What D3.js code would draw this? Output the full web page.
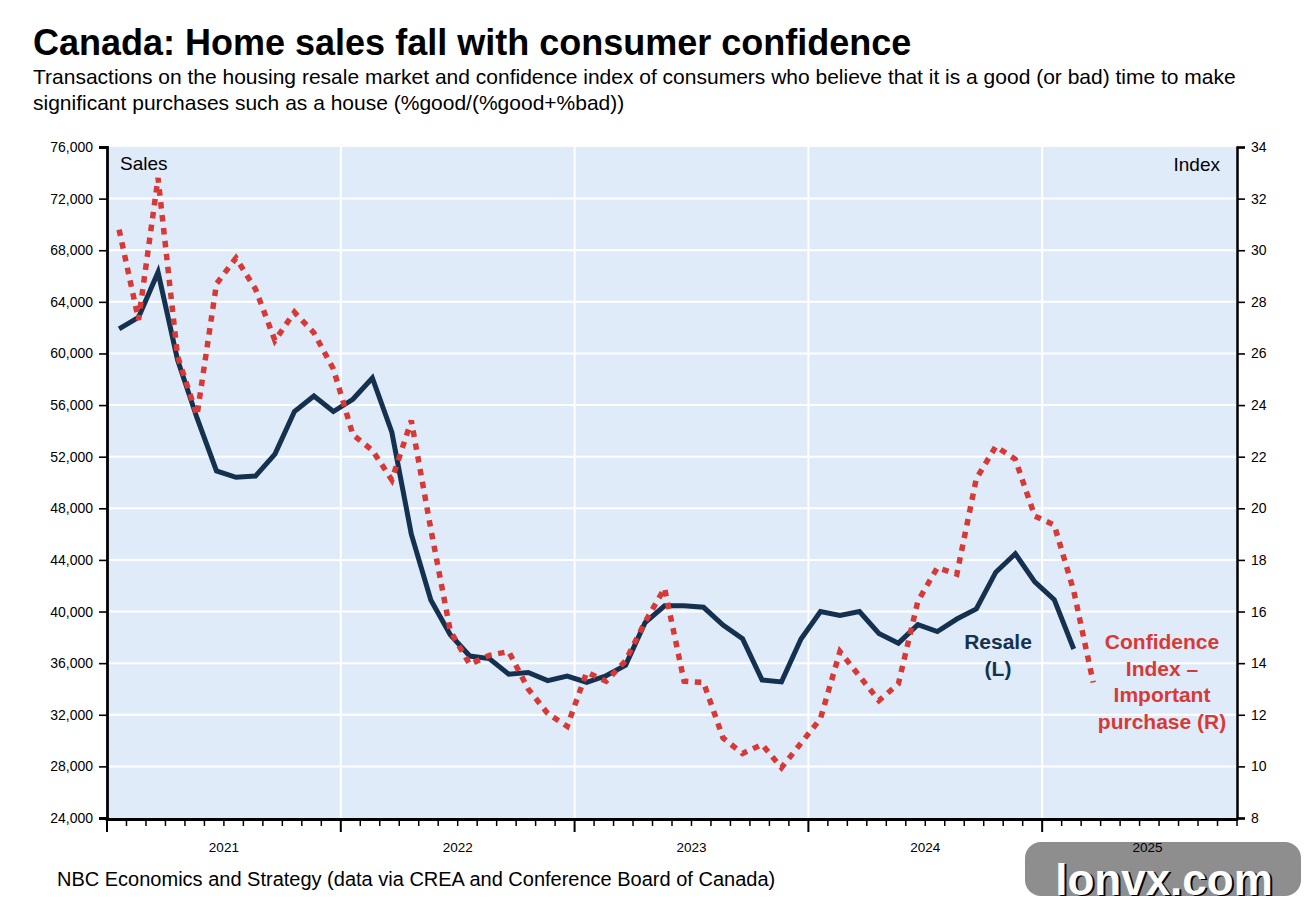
<!DOCTYPE html>
<html>
<head>
<meta charset="utf-8">
<script src="https://cdn.jsdelivr.net/npm/d3@7"></script>
<style>
  body { margin: 0; background: #ffffff; }
  svg { display: block; font-family: "Liberation Sans", Arial, Helvetica, sans-serif; }
</style>
</head>
<body>
<svg id="chart" width="1304" height="908"></svg>
<script>
// ---------------- DATA ----------------
const months = [
  "2021-01","2021-02","2021-03","2021-04","2021-05","2021-06","2021-07","2021-08","2021-09","2021-10","2021-11","2021-12",
  "2022-01","2022-02","2022-03","2022-04","2022-05","2022-06","2022-07","2022-08","2022-09","2022-10","2022-11","2022-12",
  "2023-01","2023-02","2023-03","2023-04","2023-05","2023-06","2023-07","2023-08","2023-09","2023-10","2023-11","2023-12",
  "2024-01","2024-02","2024-03","2024-04","2024-05","2024-06","2024-07","2024-08","2024-09","2024-10","2024-11","2024-12",
  "2025-01","2025-02","2025-03"
];

// Resale transactions (left axis), Jan 2021 - Feb 2025
const resale = [
  61900, 62800, 66300, 59500, 55000, 50900, 50400, 50500, 52200, 55500, 56700, 55500,
  56450, 58100, 53900, 46000, 40900, 38200, 36550, 36350, 35150, 35280, 34650, 35000,
  34520, 35020, 35850, 39150, 40450, 40450, 40330, 38950, 37900, 34700, 34550, 37870,
  40000, 39700, 40000, 38300, 37550, 38980, 38450, 39420, 40200, 43050, 44480, 42300,
  40920, 37100
];

// Confidence index - important purchase (right axis), Jan 2021 - Mar 2025
const confidence = [
  30.8, 27.3, 32.8, 25.9, 23.6, 28.7, 29.7, 28.5, 26.5, 27.6, 26.8, 25.4,
  22.85, 22.25, 21.1, 23.4, 19.2, 15.25, 13.95, 14.3, 14.45, 13.0, 12.05, 11.55,
  13.65, 13.3, 14.1, 15.6, 16.9, 13.3, 13.25, 11.1, 10.5, 10.85, 9.95, 10.9,
  11.85, 14.45, 13.5, 12.55, 13.2, 16.4, 17.7, 17.45, 21.15, 22.4, 21.9, 19.7,
  19.35, 16.8, 13.25
];

const leftTicks = [24000, 28000, 32000, 36000, 40000, 44000, 48000, 52000, 56000, 60000, 64000, 68000, 72000, 76000];
const rightTicks = [8, 10, 12, 14, 16, 18, 20, 22, 24, 26, 28, 30, 32, 34];
const yearLabels = ["2021", "2022", "2023", "2024", "2025"];
const axisMonths = 58; // Jan 2021 .. end Oct 2025

// ---------------- LAYOUT ----------------
const svg = d3.select("#chart");
const plot = { left: 107, right: 1237, top: 147, bottom: 818 };
const navy = "#14324f";
const red = "#d73a36";
const bg = "#e0ebf9";
const pointOffset = 0.62;

const x = d3.scaleLinear().domain([0, axisMonths]).range([plot.left, plot.right]);
const yL = d3.scaleLinear().domain([24000, 76000]).range([plot.bottom, plot.top]);
const yR = d3.scaleLinear().domain([8, 34]).range([plot.bottom, plot.top]);

// watermark (drawn first; year label sits on top of it)
const wm = svg.append("g");
wm.append("rect").attr("x", 1025).attr("y", 842).attr("width", 276).attr("height", 54)
  .attr("rx", 16).attr("fill", "#8e8e8e");
wm.append("text").attr("x", 1166).attr("y", 896).attr("text-anchor", "middle")
  .attr("font-size", 44).attr("font-weight", "bold").attr("fill", "#000").text("lonvx.com");
wm.append("text").attr("x", 1164).attr("y", 894.5).attr("text-anchor", "middle")
  .attr("font-size", 44).attr("font-weight", "bold").attr("fill", "#fff").text("lonvx.com");

// title & subtitle
svg.append("text").attr("x", 33).attr("y", 55).attr("font-size", 36).attr("font-weight", "bold")
  .attr("fill", "#000").text("Canada: Home sales fall with consumer confidence");
svg.append("text").attr("x", 33).attr("y", 84).attr("font-size", 21).attr("fill", "#000")
  .text("Transactions on the housing resale market and confidence index of consumers who believe that it is a good (or bad) time to make");
svg.append("text").attr("x", 33).attr("y", 110).attr("font-size", 21).attr("fill", "#000")
  .text("significant purchases such as a house (%good/(%good+%bad))");

// plot background
svg.append("rect").attr("x", plot.left).attr("y", plot.top)
  .attr("width", plot.right - plot.left).attr("height", plot.bottom - plot.top).attr("fill", bg);

// gridlines
const grid = svg.append("g").attr("stroke", "#ffffff").attr("stroke-width", 2);
grid.selectAll("line.h").data(leftTicks.filter(v => v > 24000 && v < 76000)).join("line")
  .attr("x1", plot.left).attr("x2", plot.right)
  .attr("y1", d => yL(d)).attr("y2", d => yL(d));
const yearStarts = d3.range(12, axisMonths, 12);
grid.selectAll("line.v").data(yearStarts).join("line")
  .attr("x1", d => x(d)).attr("x2", d => x(d))
  .attr("y1", plot.top).attr("y2", plot.bottom);

// left axis
const leftAxis = d3.axisLeft(yL).tickValues(leftTicks).tickSize(8).tickPadding(6)
  .tickFormat(d3.format(","));
const gL = svg.append("g").attr("transform", `translate(${plot.left},0)`).call(leftAxis);
gL.select(".domain").attr("stroke", "#000").attr("stroke-width", 2.8);
gL.selectAll(".tick line").attr("stroke", "#000").attr("stroke-width", 1.6);
gL.selectAll("text").attr("font-size", 14).attr("fill", "#000").attr("font-family", null);

// right axis
const rightAxis = d3.axisRight(yR).tickValues(rightTicks).tickSize(8).tickPadding(6);
const gR = svg.append("g").attr("transform", `translate(${plot.right},0)`).call(rightAxis);
gR.select(".domain").attr("stroke", "#000").attr("stroke-width", 2.5);
gR.selectAll(".tick line").attr("stroke", "#000").attr("stroke-width", 1.6);
gR.selectAll("text").attr("font-size", 14).attr("fill", "#000").attr("font-family", null);

// bottom axis with monthly ticks
const gB = svg.append("g");
gB.append("line").attr("x1", plot.left - 1.4).attr("x2", plot.right + 1.2)
  .attr("y1", plot.bottom + 1.5).attr("y2", plot.bottom + 1.5)
  .attr("stroke", "#000").attr("stroke-width", 2.8);
gB.selectAll("line.tk").data(d3.range(0, axisMonths + 1)).join("line")
  .attr("x1", d => x(d)).attr("x2", d => x(d))
  .attr("y1", plot.bottom + 1.5)
  .attr("y2", d => plot.bottom + (d % 12 === 0 ? 14 : 8))
  .attr("stroke", "#000").attr("stroke-width", d => d % 12 === 0 ? 2 : 1.5);
gB.selectAll("text.yr").data(yearLabels).join("text")
  .attr("x", (d, i) => {
    const s = i * 12, e = Math.min(i * 12 + 12, axisMonths);
    return (x(s) + x(e)) / 2 + (e - s < 12 ? 8 : 0);
  })
  .attr("y", 852).attr("text-anchor", "middle").attr("font-size", 13.5).attr("fill", "#000")
  .text(d => d);

// axis titles
svg.append("text").attr("x", 120).attr("y", 170).attr("font-size", 19).attr("fill", "#000").text("Sales");
svg.append("text").attr("x", 1220).attr("y", 171).attr("font-size", 19).attr("text-anchor", "end")
  .attr("fill", "#000").text("Index");

// series
const lineL = d3.line().x((d, i) => x(i + pointOffset)).y(d => yL(d));
const lineR = d3.line().x((d, i) => x(i + pointOffset)).y(d => yR(d));

svg.append("path").datum(resale).attr("d", lineL)
  .attr("fill", "none").attr("stroke", navy).attr("stroke-width", 5)
  .attr("stroke-linejoin", "miter").attr("stroke-linecap", "butt");

svg.append("path").datum(confidence).attr("d", lineR)
  .attr("fill", "none").attr("stroke", red).attr("stroke-width", 5.5)
  .attr("stroke-dasharray", "6.5 6.5").attr("stroke-linejoin", "miter").attr("stroke-linecap", "butt");

// annotations
const resaleLbl = svg.append("text").attr("text-anchor", "middle").attr("font-size", 21)
  .attr("font-weight", "bold").attr("fill", navy);
["Resale", "(L)"].forEach((t, i) => resaleLbl.append("tspan").attr("x", 998).attr("y", 649 + i * 27).text(t));

const confLbl = svg.append("text").attr("text-anchor", "middle").attr("font-size", 21)
  .attr("font-weight", "bold").attr("fill", red);
["Confidence", "Index \u2013", "Important", "purchase (R)"].forEach((t, i) =>
  confLbl.append("tspan").attr("x", 1162).attr("y", 649 + i * 26.7).text(t));

// source
svg.append("text").attr("x", 57).attr("y", 886).attr("font-size", 20).attr("fill", "#000")
  .text("NBC Economics and Strategy (data via CREA and Conference Board of Canada)");
</script>
</body>
</html>
